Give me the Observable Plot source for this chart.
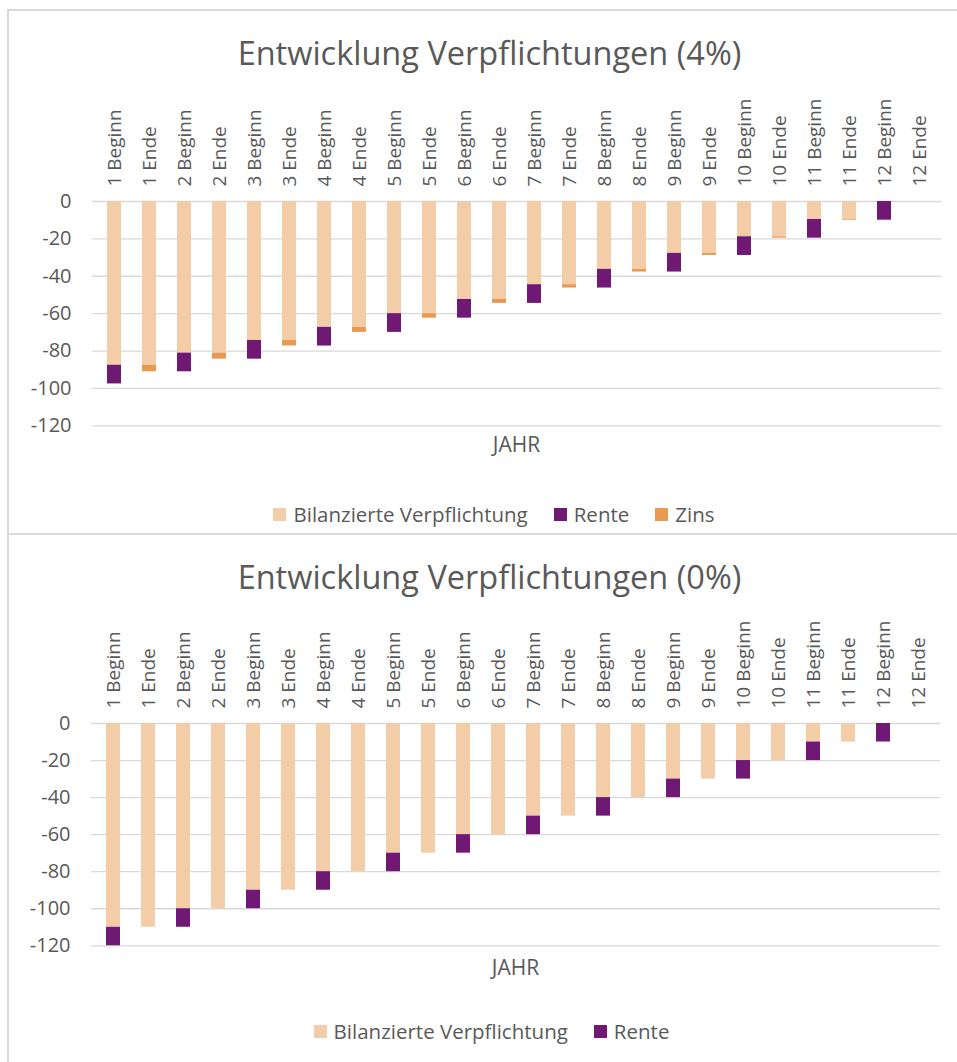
<!DOCTYPE html>
<html>
<head>
<meta charset="utf-8">
<script src="https://cdn.jsdelivr.net/npm/d3@7"></script>
<script src="https://cdn.jsdelivr.net/npm/@observablehq/plot@0.6"></script>
<style>
  html, body { margin: 0; padding: 0; background: #fff; }
  #page { position: relative; width: 957px; height: 1062px; overflow: hidden;
          font-family: "Open Sans", sans-serif; color: #595959; }
  .frame { position: absolute; border-top: 2px solid #d9d9d9; border-left: 2px solid #d9d9d9; }
  .abs { position: absolute; white-space: nowrap; line-height: 1; text-align: center; }
  .legend { display: flex; justify-content: center; align-items: center; }
  .legend .item { display: flex; align-items: center; margin: 0 13px; }
  .legend .sw { width: 13px; height: 13px; margin-right: 7px; }
  svg { position: absolute; left: 0; overflow: visible; }
</style>
</head>
<body>
<div id="page"></div>
<script>
// Zeitpunkte: Beginn und Ende jedes Jahres
const categories = [
  "1 Beginn", "1 Ende", "2 Beginn", "2 Ende", "3 Beginn", "3 Ende",
  "4 Beginn", "4 Ende", "5 Beginn", "5 Ende", "6 Beginn", "6 Ende",
  "7 Beginn", "7 Ende", "8 Beginn", "8 Ende", "9 Beginn", "9 Ende",
  "10 Beginn", "10 Ende", "11 Beginn", "11 Ende", "12 Beginn", "12 Ende"
];

// Verpflichtungen bei 4 % Zins
const bilanz4 = [-87.60, -87.60, -81.11, -81.11, -74.35, -74.35, -67.33, -67.33,
                 -60.02, -60.02, -52.42, -52.42, -44.52, -44.52, -36.30, -36.30,
                 -27.75, -27.75, -18.86, -18.86, -9.62, -9.62, 0, 0];
const rente4 = [-10, 0, -10, 0, -10, 0, -10, 0, -10, 0, -10, 0,
                -10, 0, -10, 0, -10, 0, -10, 0, -10, 0, -10, 0];
const zins4 = [0, -3.50, 0, -3.24, 0, -2.97, 0, -2.69, 0, -2.40, 0, -2.10,
               0, -1.78, 0, -1.45, 0, -1.11, 0, -0.75, 0, -0.38, 0, 0];

// Verpflichtungen bei 0 % Zins
const bilanz0 = [-110, -110, -100, -100, -90, -90, -80, -80, -70, -70, -60, -60,
                 -50, -50, -40, -40, -30, -30, -20, -20, -10, -10, 0, 0];
const rente0 = [-10, 0, -10, 0, -10, 0, -10, 0, -10, 0, -10, 0,
                -10, 0, -10, 0, -10, 0, -10, 0, -10, 0, -10, 0];

const yTicks = [0, -20, -40, -60, -80, -100, -120];

const seriesNames = ["Bilanzierte Verpflichtung", "Rente", "Zins"];
const seriesColors = ["#f2cda8", "#6f1874", "#e99a52"];

const page = document.getElementById("page");

function addDiv(cls, css, html) {
  const d = document.createElement("div");
  d.className = cls;
  Object.assign(d.style, css);
  if (html != null) d.innerHTML = html;
  page.appendChild(d);
  return d;
}

function drawChart(cfg) {
  // Rahmen
  addDiv("frame", {left: "7px", top: cfg.frameTop + "px", width: "2000px", height: cfg.frameHeight + "px"});

  // Titel
  addDiv("abs", {left: "0px", width: (2 * 489.5) + "px", top: cfg.titleTop + "px", fontSize: "32.5px"}, cfg.title);

  // Daten im Langformat für die Stapelung
  const data = [];
  categories.forEach((c, i) => {
    cfg.series.forEach(s => {
      if (s.values[i] !== 0) data.push({Jahr: c, Posten: s.name, Wert: s.values[i]});
    });
  });

  const svgTop = cfg.zeroY - 116;
  const marginTop = 116;
  const plotH = cfg.bottomY - cfg.zeroY;
  const chart = Plot.plot({
    width: 957,
    height: marginTop + plotH + 6,
    marginTop,
    marginBottom: 6,
    marginLeft: cfg.left,
    marginRight: 957 - cfg.right,
    style: {fontFamily: "Open Sans, sans-serif", fontSize: "19px", color: "#595959", background: "transparent"},
    x: {domain: categories, paddingInner: 0.6, paddingOuter: 0.3, label: null},
    y: {domain: [-120, 0], label: null},
    color: {domain: seriesNames, range: seriesColors},
    marks: [
      Plot.gridY(yTicks, {stroke: "#d9d9d9", strokeOpacity: 1, strokeWidth: 1.3}),
      Plot.barY(data, Plot.stackY({x: "Jahr", y: "Wert", fill: "Posten", order: seriesNames})),
      Plot.axisX({anchor: "top", tickRotate: -90, tickSize: 0, tickPadding: 15, fontSize: 19, fill: "#595959", label: null}),
      Plot.axisY(yTicks, {anchor: "left", tickSize: 0, tickPadding: 21, fontSize: 20, fill: "#595959", label: null,
                          tickFormat: d => String(d)})
    ]
  });
  chart.style.top = svgTop + "px";
  page.appendChild(chart);

  // Achsentitel
  const cx = (cfg.left + cfg.right) / 2;
  addDiv("abs", {left: (cx - 100) + "px", width: "200px", top: cfg.axisTop + "px", fontSize: "21px"}, "JAHR");

  // Legende
  const leg = addDiv("abs legend", {left: "0px", width: (2 * cfg.legendCx) + "px", top: cfg.legendTop + "px", fontSize: "20.5px", height: "22px"});
  cfg.series.forEach(s => {
    const item = document.createElement("div");
    item.className = "item";
    const sw = document.createElement("div");
    sw.className = "sw";
    sw.style.background = seriesColors[seriesNames.indexOf(s.name)];
    const t = document.createElement("span");
    t.textContent = s.name;
    item.appendChild(sw);
    item.appendChild(t);
    leg.appendChild(item);
  });
}

drawChart({
  title: "Entwicklung Verpflichtungen (4%)",
  frameTop: 9, frameHeight: 524,
  titleTop: 36.5,
  zeroY: 200.7, bottomY: 425,
  left: 92, right: 941,
  axisTop: 433.8,
  legendTop: 503, legendCx: 494,
  series: [
    {name: "Bilanzierte Verpflichtung", values: bilanz4},
    {name: "Rente", values: rente4},
    {name: "Zins", values: zins4}
  ]
});

drawChart({
  title: "Entwicklung Verpflichtungen (0%)",
  frameTop: 533, frameHeight: 600,
  titleTop: 561,
  zeroY: 722.7, bottomY: 945,
  left: 91, right: 940,
  axisTop: 956.8,
  legendTop: 1020, legendCx: 491.5,
  series: [
    {name: "Bilanzierte Verpflichtung", values: bilanz0},
    {name: "Rente", values: rente0}
  ]
});
</script>
</body>
</html>
